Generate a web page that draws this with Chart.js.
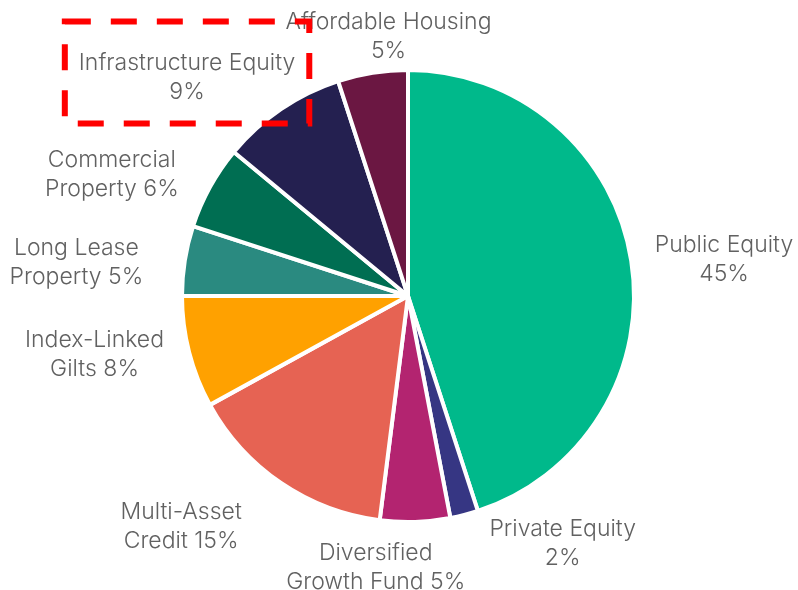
<!DOCTYPE html>
<html>
<head>
<meta charset="utf-8">
<script src="https://cdn.jsdelivr.net/npm/chart.js@4.4.1/dist/chart.umd.min.js"></script>
<style>
    html, body { margin: 0; padding: 0; background: #ffffff; }
    #wrap { width: 798px; height: 590px; position: relative; }
</style>
</head>
<body>
<div id="wrap"><canvas id="pieChart"></canvas></div>
<script>
// 资产类别 (多行标签)
const categories = [
    ['Public Equity'],
    ['Private Equity'],
    ['Diversified', 'Growth Fund'],
    ['Multi-Asset', 'Credit'],
    ['Index-Linked', 'Gilts'],
    ['Long Lease', 'Property'],
    ['Commercial', 'Property'],
    ['Infrastructure Equity'],
    ['Affordable Housing']
];
// 配置比例 (%)
const allocation = [45, 2, 5, 15, 8, 5, 6, 9, 5];
const sliceColors = ['#00b98b', '#363683', '#b32470', '#e66353', '#ffa100', '#2a8a80', '#006e52', '#242050', '#6b1742'];
// 被红框标出的类别
const highlighted = 'Infrastructure Equity';

const FONT = '300 23px Inter, "Noto Sans", sans-serif';
const LINE_H = 29;
const TEXT_COLOR = '#616161';
const LABEL_GAP = 20;
// 标签微调 (px), 类似 Excel 的 best fit
const labelNudge = [[1, 13], [82, -36], [-41, -6], [-56, -21], [-3, -21], [-19, 16], [-17, 32], [-35, 55], [26, 28]];

function labelLines(i) {
    const name = categories[i];
    const pct = allocation[i] + '%';
    if (name.length === 1) return [name[0], pct];
    return [name[0], name[1] + ' ' + pct];
}

// 外部标签 + 红色虚线框
const outsideLabels = {
    id: 'outsideLabels',
    afterDraw(chart) {
        const ctx = chart.ctx;
        const arcs = chart.getDatasetMeta(0).data;
        ctx.save();
        ctx.font = FONT;
        ctx.fillStyle = TEXT_COLOR;
        ctx.textAlign = 'center';
        ctx.textBaseline = 'middle';
        let boxRect = null;
        arcs.forEach((arc, i) => {
            const p = arc.getProps(['x', 'y', 'startAngle', 'endAngle', 'outerRadius']);
            const mid = (p.startAngle + p.endAngle) / 2;
            const cx = Math.cos(mid), cy = Math.sin(mid);
            const lines = labelLines(i);
            const w = Math.max(...lines.map(l => ctx.measureText(l).width)) / 2;
            const h = lines.length * LINE_H / 2;
            const d = p.outerRadius + LABEL_GAP + Math.abs(cx) * w + Math.abs(cy) * h;
            const lx = p.x + cx * d + labelNudge[i][0];
            const ly = p.y + cy * d + labelNudge[i][1];
            lines.forEach((l, k) => {
                ctx.fillText(l, lx, ly - h + LINE_H * (k + 0.5));
            });
            if (categories[i][0] === highlighted) {
                boxRect = { x: lx - w - 14, y: ly - h - 27, w: 2 * w + 28, h: 2 * h + 44 };
            }
        });
        if (boxRect) {
            ctx.strokeStyle = '#ff0000';
            ctx.lineWidth = 6;
            ctx.setLineDash([26, 20]);
            ctx.strokeRect(boxRect.x, boxRect.y, boxRect.w, boxRect.h);
        }
        ctx.restore();
    }
};

new Chart(document.getElementById('pieChart'), {
    type: 'pie',
    data: {
        labels: categories.map(c => c.join(' ')),
        datasets: [{
            data: allocation,
            backgroundColor: sliceColors,
            borderColor: '#ffffff',
            borderWidth: 4
        }]
    },
    options: {
        responsive: true,
        maintainAspectRatio: false,
        animation: false,
        layout: { padding: { top: 68, bottom: 66, left: 18, right: 0 } },
        plugins: {
            legend: { display: false },
            tooltip: { enabled: false }
        }
    },
    plugins: [outsideLabels]
});
</script>
</body>
</html>
